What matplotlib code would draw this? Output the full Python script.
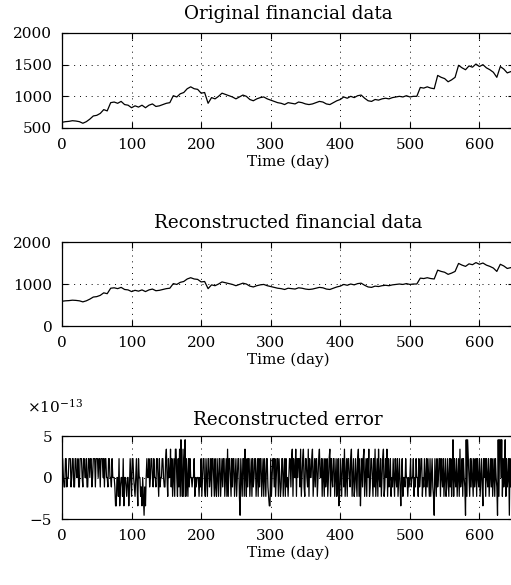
import numpy as np
import matplotlib
matplotlib.use("Agg")
import matplotlib.pyplot as plt
from matplotlib.ticker import FuncFormatter

# Financial series, one value every 5 days
days_5 = np.arange(0, 650, 5)
price = [590, 600, 605, 615, 610, 600, 575, 600, 640, 690,
         700, 730, 790, 770, 900, 910, 890, 920, 870, 860,
         820, 850, 830, 860, 820, 860, 880, 840, 850, 870,
         890, 900, 1010, 990, 1040, 1060, 1120, 1150, 1120, 1110,
         1050, 1060, 890, 980, 960, 1000, 1050, 1030, 1010, 990,
         960, 990, 1020, 1000, 950, 930, 960, 980, 990, 960,
         940, 920, 900, 890, 870, 900, 890, 880, 910, 900,
         880, 870, 880, 900, 920, 910, 880, 870, 900, 930,
         950, 990, 970, 1000, 980, 1010, 1020, 970, 930, 920,
         950, 940, 960, 970, 960, 980, 990, 1000, 990, 1010,
         990, 1000, 1000, 1140, 1130, 1150, 1130, 1120, 1330, 1300,
         1280, 1230, 1260, 1300, 1490, 1450, 1420, 1480, 1460, 1510,
         1470, 1500, 1450, 1420, 1380, 1300, 1470, 1430, 1370, 1390]

# Reconstruction error, daily, in multiples of the float spacing near 1000
eps = 1.1369e-13
err_steps = [
    2, 2, 0, -1, -1, 2, 2, -1, 0, 0, 2, 2, 2, -1, 0, 2, 2, -1, -1, 2, 2, 0, 0, 2, -1,
    -1, 2, 2, 2, 0, -1, 2, 2, 0, 0, 2, -1, -1, 2, 2, 0, 2, 2, -1, 0, 2, 2, 2, -1, 2,
    2, 2, 0, 2, 2, -1, 2, 2, 2, 0, 2, -1, 2, 2, 0, 0, -1, 2, 2, 0, 0, -1, 2, 0, 0,
    0, -1, -3, -3, 0, 0, -2, 2, -3, -1, 0, 0, -2, 2, -3, 0, 0, -1, -2, 0, 0, -3, -1, 2, 0,
    -2, 2, 2, 0, -1, -2, 0, 2, -1, -3, 2, 0, 0, -2, -1, -3, 0, -2, -4, -1, -3, 0, 2, 0, 0,
    2, -1, 0, 2, 2, 0, -1, 2, 0, 0, -1, 2, 2, 0, -2, 2, -1, 0, 0, 2, 2, 0, -1, -1, 2,
    3, 0, -2, 2, 0, 0, 3, -1, 2, -2, 0, 2, -2, 3, 3, 0, -2, 2, -1, 3, -2, 4, 0, -2, 3,
    -2, 2, 4, -2, 2, 0, -2, 2, -1, 2, 0, 0, -1, 0, 0, 2, -2, 0, -1, 0, 0, 0, -2, 0, -1,
    2, -2, 0, 2, 2, -1, -2, 2, 0, -2, 2, 2, -1, 0, 2, -2, 2, 2, 0, -2, 2, -1, -2, 2, 0,
    -2, 2, 2, -2, 0, 2, -1, 2, 2, -2, 0, 2, -2, 3, -2, 2, 2, 0, -2, 2, -1, 2, 2, -2, 0,
    2, -2, 0, 2, 2, -2, -4, 2, 0, -2, 2, 2, -2, 3, 0, -2, 2, -1, 2, 2, -2, 0, 2, -2, 2,
    -1, 0, 2, 2, -2, 0, 2, -2, 2, -1, 2, 2, -2, 0, 2, -2, 2, 0, -2, 2, 2, -1, -2, -3, -3,
    2, -2, 0, 2, 2, -1, 2, -2, 0, 2, 2, -2, 2, 0, -2, -1, 2, 2, -2, 0, 2, -2, 2, -1, 0,
    -2, 0, 2, 2, -1, 2, 3, -2, 2, 0, 0, 3, -2, 2, 0, 2, 2, -1, 3, -2, 0, 2, 3, -1, -2,
    2, 2, 0, -1, 3, -2, 2, 0, 0, 2, 3, -2, 0, 2, -1, 2, 2, -2, 0, 2, 3, 0, 0, 2, -2,
    2, 0, -2, 2, -1, 0, 2, -2, 0, 2, 3, -2, 2, 0, -1, 2, 2, -2, 0, 2, -2, -1, 2, -3, -2,
    2, 0, -2, 2, 2, -1, 3, -2, 0, 2, -2, 2, 2, 0, -1, 2, 3, -2, 0, 2, -2, -1, 2, 0, -2,
    2, 3, -2, 2, -3, 0, 2, -1, 2, 3, -2, 0, 2, -2, 2, 0, 3, -2, -1, 2, 2, 0, -2, 2, -1,
    3, -2, 0, 2, -2, 3, 0, -1, 2, -2, 0, 2, 3, -2, -1, 2, 0, 3, -2, 2, -1, 0, 2, -2, 0,
    -1, 2, 0, -2, 2, 0, -1, 2, -2, 0, 2, -1, -3, 0, 2, -2, 0, 0, -1, 2, 0, 0, -2, 0, -1,
    0, 2, -1, 0, 0, 2, -2, 0, -1, 2, 0, 0, -2, 2, -1, 0, 2, 2, -2, 0, -1, 2, 0, -2, 2,
    -1, 2, 0, -2, 2, -2, 0, 2, -1, -2, -4, 2, 0, -2, 2, -1, 0, 2, 2, -2, 2, 0, -1, 2, -2,
    0, 2, -2, -1, 2, 0, -2, 2, -1, 2, -2, 0, 4, -2, 2, 0, -1, 2, -2, 0, 2, -2, 3, -1, 0,
    2, -2, 2, 0, -1, -4, 4, -2, 4, 2, 0, -2, 2, -1, 2, 0, -2, 2, -1, 0, 2, -2, 2, 0, -1,
    2, -2, 0, 2, -1, -3, 2, 0, 2, -2, 2, 0, -1, 2, -2, 0, 2, -1, 2, -2, 0, 2, -2, 2, 0,
    -1, -4, 4, -2, 4, 4, 0, 4, -2, 2, -1, 0, 4, -2, 2, -1, 0, 2, -4, 2, -1, 0, 2, -2, 0]
days_1 = np.arange(len(err_steps))
err = np.array(err_steps) * eps

plt.rcParams['font.family'] = 'DejaVu Serif'
plt.rcParams['font.size'] = 11
plt.rcParams['mathtext.fontset'] = 'dejavuserif'

fig = plt.figure(figsize=(5.11, 5.85), dpi=100)
ax1 = fig.add_axes([0.1213, 0.7812, 0.885, 0.1624])
ax2 = fig.add_axes([0.1213, 0.4427, 0.885, 0.1436])
ax3 = fig.add_axes([0.1213, 0.1128, 0.885, 0.1419])

ax1.plot(days_5, price, color='black', lw=0.9)
ax2.plot(days_5, price, color='black', lw=0.9)
ax3.plot(days_1, err, color='black', lw=0.9)

ax1.set_ylim(500, 2000)
ax1.set_yticks([500, 1000, 1500, 2000])
ax2.set_ylim(0, 2000)
ax2.set_yticks([0, 1000, 2000])
ax3.set_ylim(-5e-13, 5e-13)
ax3.set_yticks([-5e-13, 0, 5e-13])
ax3.yaxis.set_major_formatter(FuncFormatter(lambda v, p: f"{v / 1e-13:.0f}".replace("-", "\u2212")))
fig.text(27 / 511, 1 - 407 / 585, r"$\times10^{-13}$", ha='left', va='center', fontsize=11)

titles = ["Original financial data", "Reconstructed financial data", "Reconstructed error"]
title_pads = [10, 10, 8]
for ax, t, tp in zip([ax1, ax2, ax3], titles, title_pads):
    ax.set_xlim(0, 650)
    ax.set_xticks(range(0, 700, 100))
    ax.set_title(t, pad=tp)
    ax.set_xlabel("Time (day)", labelpad=2)
    ax.grid(True, color='black', linestyle=(0, (1, 5)), lw=0.7)
    ax.tick_params(direction='in', top=True, right=True, length=4, width=0.8)
    ax.tick_params(axis='x', pad=7)
    ax.tick_params(axis='y', pad=7)
    for s in ax.spines.values():
        s.set_linewidth(0.9)

fig.savefig("out.png", dpi=100)
